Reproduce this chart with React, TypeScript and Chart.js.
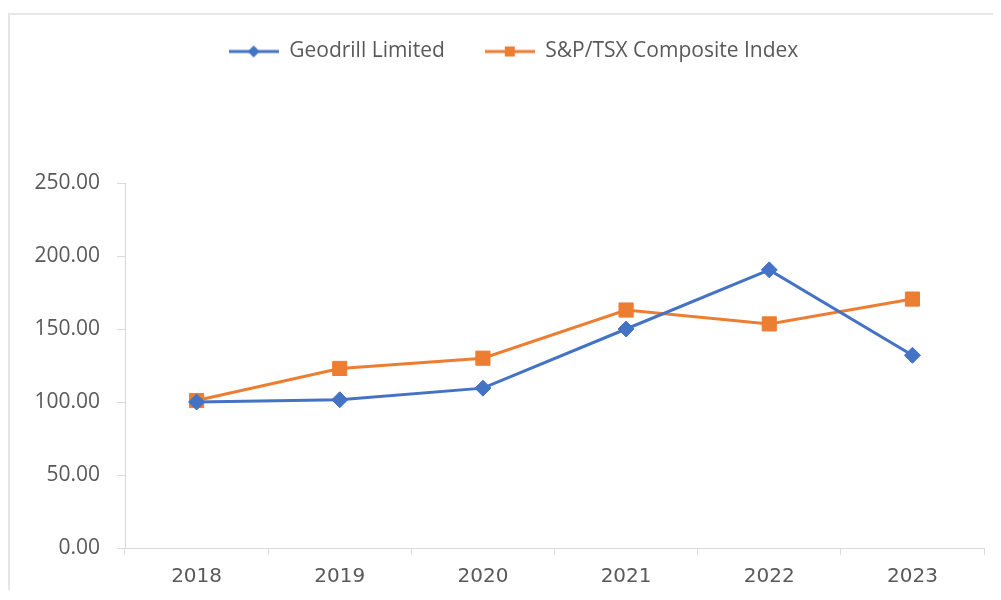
import React, { useEffect, useRef } from "react";
import { Chart, registerables } from "chart.js";

Chart.register(...registerables);

const years = ["2018", "2019", "2020", "2021", "2022", "2023"];
const geodrill = [100, 101.5, 109.5, 150, 190.5, 132];
const sptsx = [101, 123, 130, 163, 153.5, 170.5];
const seriesNames = ["Geodrill Limited", "S&P/TSX Composite Index"];

const BLUE = "#4472C4";
const ORANGE = "#ED7D31";
const AXIS = "#d9d9d9";
const TEXT = "#595959";

function legendIcon(color: string, shape: "diamond" | "square"): HTMLCanvasElement {
  const c = document.createElement("canvas");
  c.width = 50;
  c.height = 16;
  const ctx = c.getContext("2d")!;
  ctx.strokeStyle = color;
  ctx.lineWidth = 3;
  ctx.beginPath();
  ctx.moveTo(0, 8);
  ctx.lineTo(50, 8);
  ctx.stroke();
  ctx.fillStyle = color;
  ctx.beginPath();
  if (shape === "diamond") {
    ctx.moveTo(25, 2);
    ctx.lineTo(31, 8);
    ctx.lineTo(25, 14);
    ctx.lineTo(19, 8);
    ctx.closePath();
  } else {
    ctx.rect(20, 3, 10, 10);
  }
  ctx.fill();
  return c;
}

export default function App() {
  const ref = useRef<HTMLCanvasElement | null>(null);

  useEffect(() => {
    if (!ref.current) return;
    const icons = [legendIcon(BLUE, "diamond"), legendIcon(ORANGE, "square")];
    const legendSpacer = {
      id: "legendSpacer",
      afterInit(chart: any) {
        const lg = chart.legend;
        if (!lg) return;
        const orig = lg.fit.bind(lg);
        lg.fit = function () {
          orig();
          this.height = 182;
        };
      },
      afterLayout(chart: any) {
        const lg = chart.legend;
        if (!lg) return;
        lg.left += 14;
        lg.right += 14;
      },
    };
    const chart = new Chart(ref.current, {
      type: "line",
      data: {
        labels: years,
        datasets: [
          {
            label: seriesNames[0],
            data: geodrill,
            borderColor: BLUE,
            backgroundColor: BLUE,
            borderWidth: 3,
            pointStyle: "rectRot",
            pointRadius: 8,
            pointHoverRadius: 8,
            pointBorderWidth: 1,
            tension: 0,
          },
          {
            label: seriesNames[1],
            data: sptsx,
            borderColor: ORANGE,
            backgroundColor: ORANGE,
            borderWidth: 3,
            pointStyle: "rect",
            pointRadius: 10,
            pointHoverRadius: 10,
            pointBorderWidth: 1,
            tension: 0,
          },
        ],
      },
      options: {
        responsive: false,
        animation: false,
        layout: { padding: { top: -14, left: 0, right: 6, bottom: 0 } },
        plugins: {
          tooltip: { enabled: false },
          legend: {
            position: "top",
            labels: {
              usePointStyle: true,
              pointStyleWidth: 50,
              padding: 40,
              color: TEXT,
              font: { family: "Open Sans", size: 21 },
              generateLabels: (ch: any) =>
                ch.data.datasets.map((ds: any, i: number) => ({
                  text: ds.label,
                  pointStyle: icons[i],
                  fillStyle: ds.borderColor,
                  strokeStyle: ds.borderColor,
                  lineWidth: 0,
                  hidden: false,
                  datasetIndex: i,
                  fontColor: TEXT,
                })),
            },
          },
        },
        scales: {
          x: {
            type: "category",
            offset: true,
            afterFit: (s: any) => {
              s.height = 42;
            },
            border: { color: AXIS, width: 1 },
            grid: {
              offset: true,
              drawOnChartArea: false,
              drawTicks: true,
              tickLength: 7,
              color: AXIS,
            },
            ticks: {
              color: TEXT,
              padding: 10,
              font: { family: "DejaVu Sans", size: 20 },
            },
          },
          y: {
            min: 0,
            max: 250,
            afterFit: (s: any) => {
              s.width = 115;
            },
            border: { color: AXIS, width: 1 },
            grid: {
              drawOnChartArea: false,
              drawTicks: true,
              tickLength: 8,
              color: AXIS,
            },
            ticks: {
              stepSize: 50,
              color: TEXT,
              padding: 17,
              font: { family: "Open Sans", size: 21 },
              callback: (v: any) => Number(v).toFixed(2),
            },
          },
        },
      },
      plugins: [legendSpacer],
    });
    return () => chart.destroy();
  }, []);

  return (
    <div style={{ paddingTop: 5 }}>
      <div
        style={{
          borderTop: "2px solid #e6e6e6",
          borderLeft: "2px solid #e6e6e6",
          width: 985,
          height: 575,
        }}
      >
        <canvas ref={ref} width={985} height={575} style={{ display: "block" }} />
      </div>
    </div>
  );
}
